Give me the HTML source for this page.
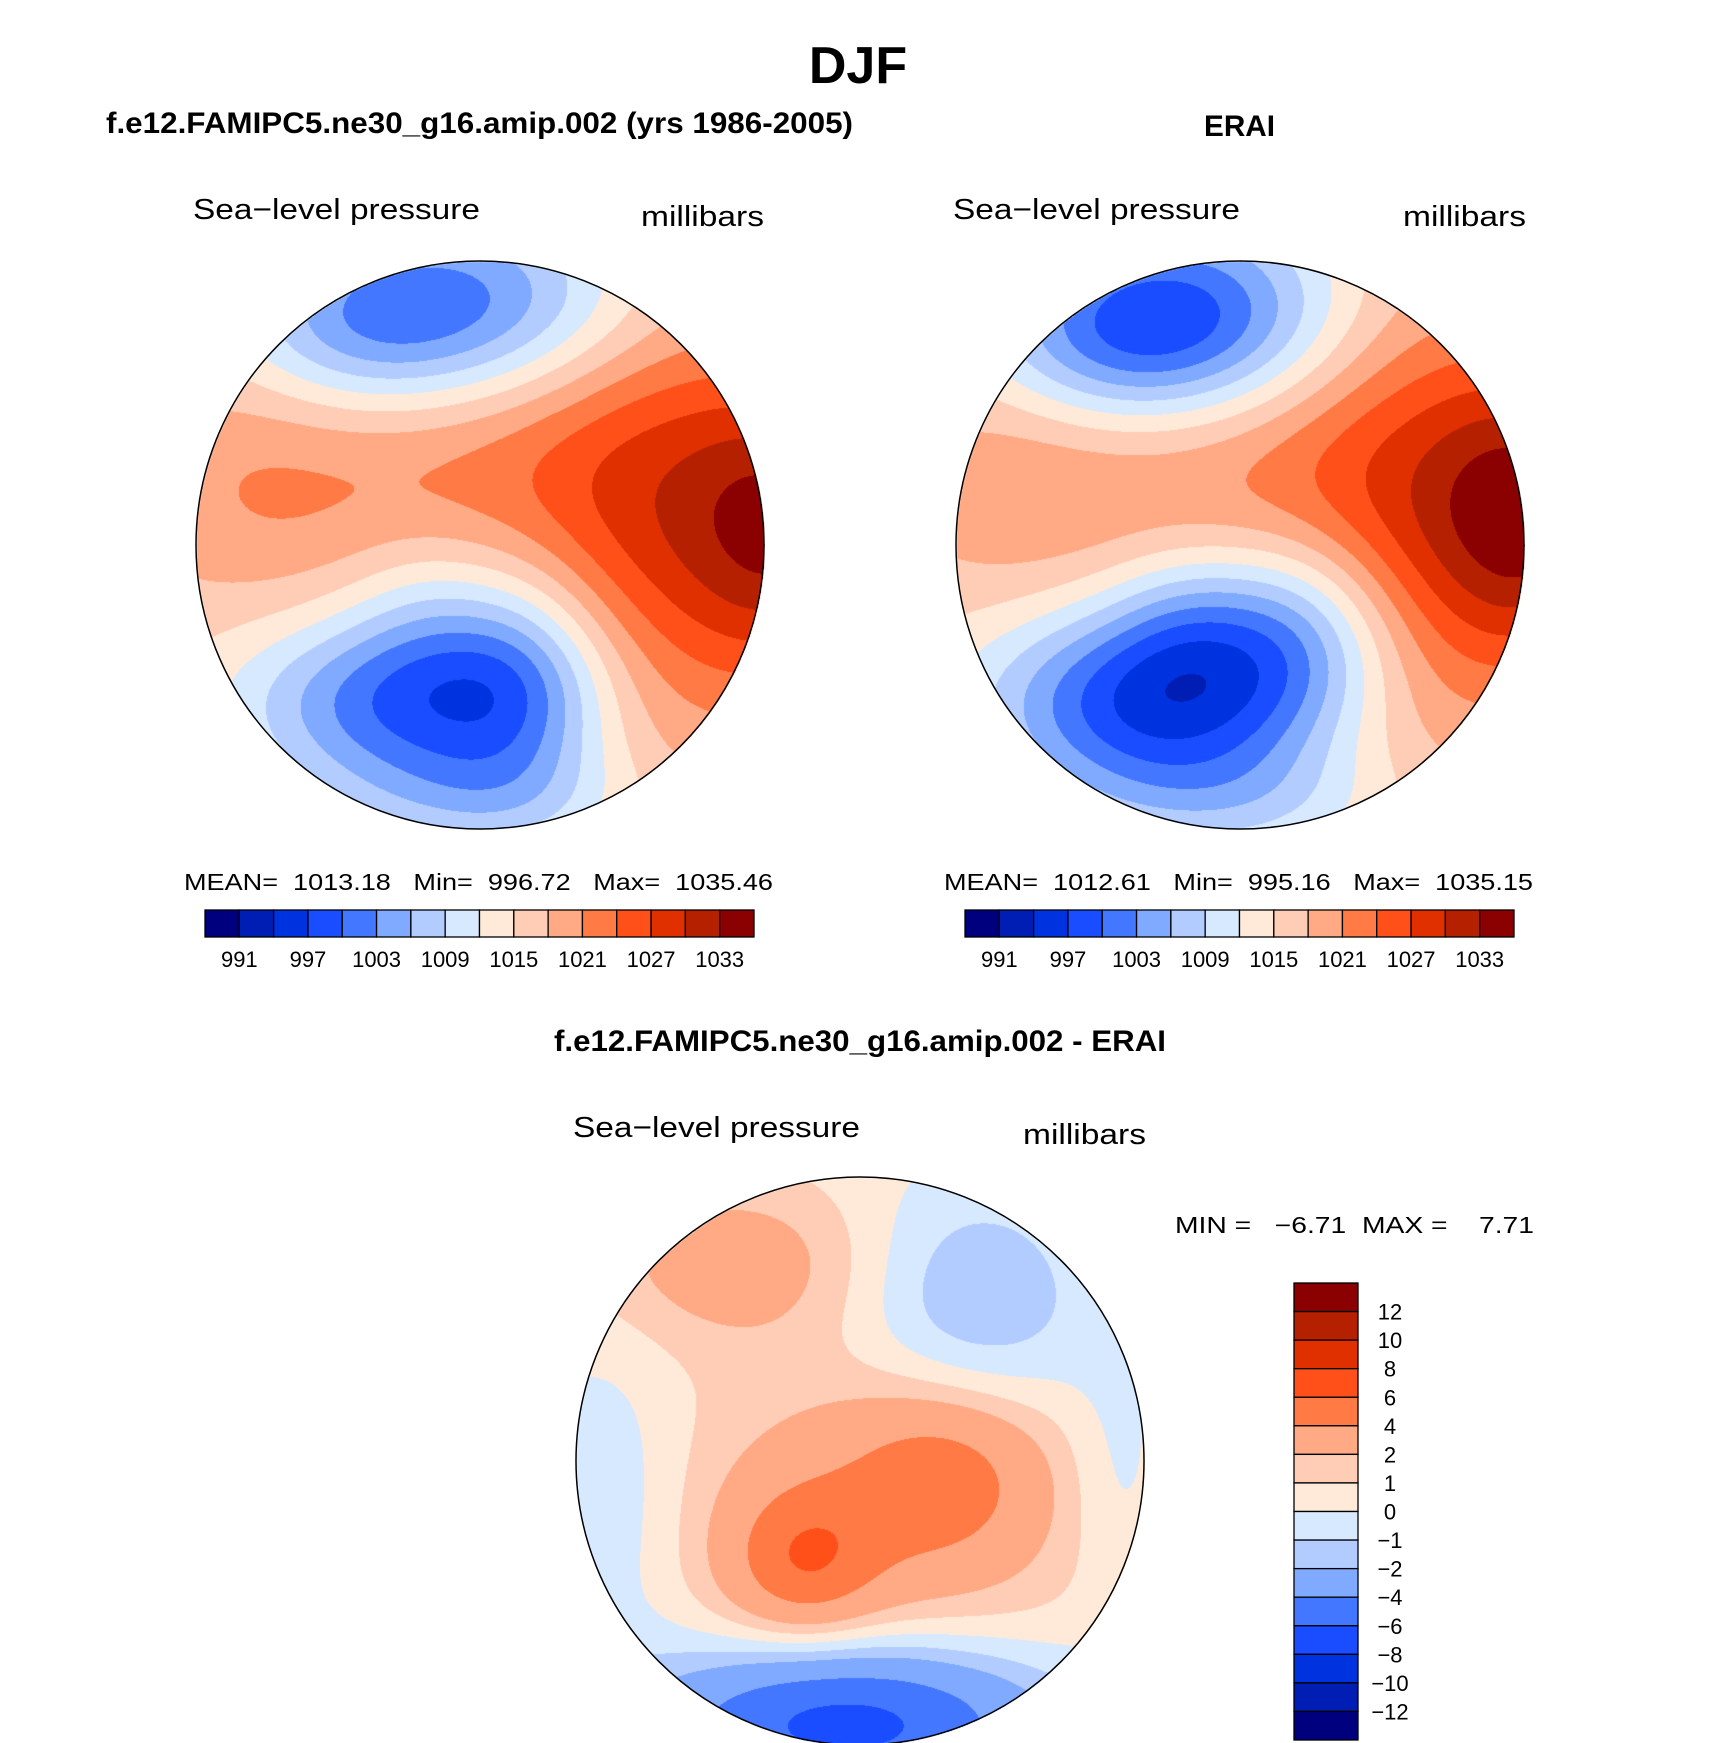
<!DOCTYPE html>
<html><head><meta charset="utf-8">
<style>
html,body{margin:0;padding:0;background:#fff;}
#wrap{position:relative;width:1710px;height:1743px;overflow:hidden;}
canvas{position:absolute;}
svg{position:absolute;left:0;top:0;}
text{font-family:"Liberation Sans",sans-serif;fill:#000;}
</style></head>
<body>
<div id="wrap">
<canvas id="c1" width="570" height="570" style="left:195px;top:260px"></canvas>
<canvas id="c2" width="570" height="570" style="left:955px;top:260px"></canvas>
<canvas id="c3" width="570" height="570" style="left:575px;top:1176px"></canvas>
<svg id="ov" width="1710" height="1743">
<text x="858" y="83" font-size="52" font-weight="bold" text-anchor="middle">DJF</text>
<text x="106" y="133" font-size="30" font-weight="bold" textLength="747" lengthAdjust="spacingAndGlyphs">f.e12.FAMIPC5.ne30_g16.amip.002 (yrs 1986-2005)</text>
<text x="1204" y="136" font-size="30" font-weight="bold" textLength="71" lengthAdjust="spacingAndGlyphs">ERAI</text>
<text x="193" y="219" font-size="29" textLength="287" lengthAdjust="spacingAndGlyphs">Sea−level pressure</text>
<text x="641" y="226" font-size="29" textLength="123" lengthAdjust="spacingAndGlyphs">millibars</text>
<text x="953" y="219" font-size="29" textLength="287" lengthAdjust="spacingAndGlyphs">Sea−level pressure</text>
<text x="1403" y="226" font-size="29" textLength="123" lengthAdjust="spacingAndGlyphs">millibars</text>
<text x="184" y="890" font-size="23" textLength="589" lengthAdjust="spacingAndGlyphs" xml:space="preserve">MEAN=  1013.18   Min=  996.72   Max=  1035.46</text>
<text x="944" y="890" font-size="23" textLength="589" lengthAdjust="spacingAndGlyphs" xml:space="preserve">MEAN=  1012.61   Min=  995.16   Max=  1035.15</text>
<text x="554" y="1051" font-size="30" font-weight="bold" textLength="612" lengthAdjust="spacingAndGlyphs">f.e12.FAMIPC5.ne30_g16.amip.002 - ERAI</text>
<text x="573" y="1137" font-size="29" textLength="287" lengthAdjust="spacingAndGlyphs">Sea−level pressure</text>
<text x="1023" y="1144" font-size="29" textLength="123" lengthAdjust="spacingAndGlyphs">millibars</text>
<text x="1175" y="1233" font-size="23" textLength="359" lengthAdjust="spacingAndGlyphs" xml:space="preserve">MIN =   −6.71  MAX =    7.71</text>
<g id="cb"></g>
<circle cx="480" cy="545" r="284" fill="none" stroke="#000" stroke-width="1.5"/>
<circle cx="1240" cy="545" r="284" fill="none" stroke="#000" stroke-width="1.5"/>
<circle cx="860" cy="1461" r="284" fill="none" stroke="#000" stroke-width="1.5"/>
</svg>
</div>
<script>
// colour scale (16 bins)
const colors = ["#00007F","#001EB3","#0033E0","#1A4DFF","#4477FF","#80AAFF","#B3CCFF","#D6E9FF","#FFEAD9","#FFCCB5","#FFAA85","#FF7A45","#FF501A","#E03000","#B52000","#8B0000"];
// full-field contour levels
const slpBounds = [988,991,994,997,1000,1003,1006,1009,1012,1015,1018,1021,1024,1027,1030];
const slpTickLabels = ["991","997","1003","1009","1015","1021","1027","1033"];
// difference levels
const diffBounds = [-12,-10,-8,-6,-4,-2,-1,0,1,2,4,6,8,10,12];
const diffTickLabels = ["12","10","8","6","4","2","1","0","−1","−2","−4","−6","−8","−10","−12"];

// pressure features: normalized map position, amplitude (mb), spread
const modelBase = 1013;
const modelU   = [1.1, 0.65, 0.0, -0.85, -0.05, -0.45, -0.25, 0.15, 0.0, -0.2];
const modelV   = [-0.05,-0.1,-0.25,-0.2, -0.85, -0.75, 0.55, 0.45, 0.9, 0.2];
const modelAmp = [13, 9, 6, 3, -14, -6, -16, -9, -6, -4];
const modelSx  = [0.25,0.35,0.6,0.3,0.45,0.3,0.4,0.22,0.4,0.2];
const modelSy  = [0.35,0.6,0.35,0.3,0.25,0.2,0.22,0.3,0.15,0.2];

const eraiBase = 1012.5;
const eraiU   = [1.05, 0.65, 0.0, -0.85, -0.2, -0.5, -0.3, 0.2, 0.0, -0.2];
const eraiV   = [-0.1,-0.1,-0.25,-0.2, -0.8, -0.7, 0.55, 0.3, 0.9, 0.25];
const eraiAmp = [14, 9, 6, 3, -17, -5, -19, -11, -5, -5];
const eraiSx  = [0.25,0.35,0.6,0.3,0.4,0.3,0.4,0.25,0.4,0.2];
const eraiSy  = [0.35,0.6,0.35,0.3,0.25,0.2,0.24,0.25,0.15,0.2];

const diffBase = 0.5;
const diffU   = [-0.2, 0.3, 0.0, -0.05, 0.4, -0.45, -0.9, 0.9];
const diffV   = [0.35, 0.05, 0.2, 0.92, -0.55, -0.7, 0.15, 0.05];
const diffAmp = [3.8, 3.3, 2.2, -7.5, -2.6, 2.3, -1.5, -1.0];
const diffSx  = [0.18,0.25,0.5,0.5,0.3,0.35,0.2,0.12];
const diffSy  = [0.18,0.22,0.4,0.2,0.3,0.2,0.4,0.3];

function binOf(v,b){let i=0;while(i<b.length&&v>=b[i])i++;return i;}
function hex(c){return [parseInt(c.substr(1,2),16),parseInt(c.substr(3,2),16),parseInt(c.substr(5,2),16)];}
const rgb = colors.map(hex);
function drawMap(id,base,U,V,A,SX,SY,bounds){
  const cv=document.getElementById(id),ctx=cv.getContext('2d');
  const W=570,R=284,c=285;const img=ctx.createImageData(W,W);
  for(let y=0;y<W;y++)for(let x=0;x<W;x++){
    const u=(x-c)/R,v=(y-c)/R; if(u*u+v*v>1)continue;
    let f=base;
    for(let k=0;k<U.length;k++){const du=(u-U[k])/SX[k],dv=(v-V[k])/SY[k];f+=A[k]*Math.exp(-0.5*(du*du+dv*dv));}
    const col=rgb[binOf(f,bounds)];const p=(y*W+x)*4;
    img.data[p]=col[0];img.data[p+1]=col[1];img.data[p+2]=col[2];img.data[p+3]=255;
  }
  ctx.putImageData(img,0,0);
}
drawMap('c1',modelBase,modelU,modelV,modelAmp,modelSx,modelSy,slpBounds);
drawMap('c2',eraiBase,eraiU,eraiV,eraiAmp,eraiSx,eraiSy,slpBounds);
drawMap('c3',diffBase,diffU,diffV,diffAmp,diffSx,diffSy,diffBounds);

const NS="http://www.w3.org/2000/svg";
const g=document.getElementById('cb');
function hbar(x0,w){
  const bw=w/16;
  for(let i=0;i<16;i++){
    const r=document.createElementNS(NS,'rect');
    r.setAttribute('x',x0+i*bw);r.setAttribute('y',910);r.setAttribute('width',bw);r.setAttribute('height',27);
    r.setAttribute('fill',colors[i]);r.setAttribute('stroke','#000');r.setAttribute('stroke-width','1.3');
    
    
    g.appendChild(r);
  }
  slpTickLabels.forEach((t,j)=>{
    const tx=document.createElementNS(NS,'text');
    tx.setAttribute('x',x0+(1+2*j)*bw);tx.setAttribute('y',967);tx.setAttribute('font-size','22');tx.setAttribute('text-anchor','middle');
    tx.textContent=t;
    
    
    g.appendChild(tx);
  });
}
hbar(205,549);hbar(965,549);
(function(){
  const x0=1294,y0=1283,h=457/16;
  for(let i=0;i<16;i++){
    const r=document.createElementNS(NS,'rect');
    r.setAttribute('x',x0);r.setAttribute('y',y0+i*h);r.setAttribute('width',64);r.setAttribute('height',h);
    r.setAttribute('fill',colors[15-i]);r.setAttribute('stroke','#000');r.setAttribute('stroke-width','1.3');
    
    
    g.appendChild(r);
  }
  diffTickLabels.forEach((t,j)=>{
    const tx=document.createElementNS(NS,'text');
    tx.setAttribute('x',1390);tx.setAttribute('y',y0+(j+1)*h+8);tx.setAttribute('font-size','22');tx.setAttribute('text-anchor','middle');
    tx.textContent=t;
    
    
    g.appendChild(tx);
  });
})();
</script>
</body></html>
